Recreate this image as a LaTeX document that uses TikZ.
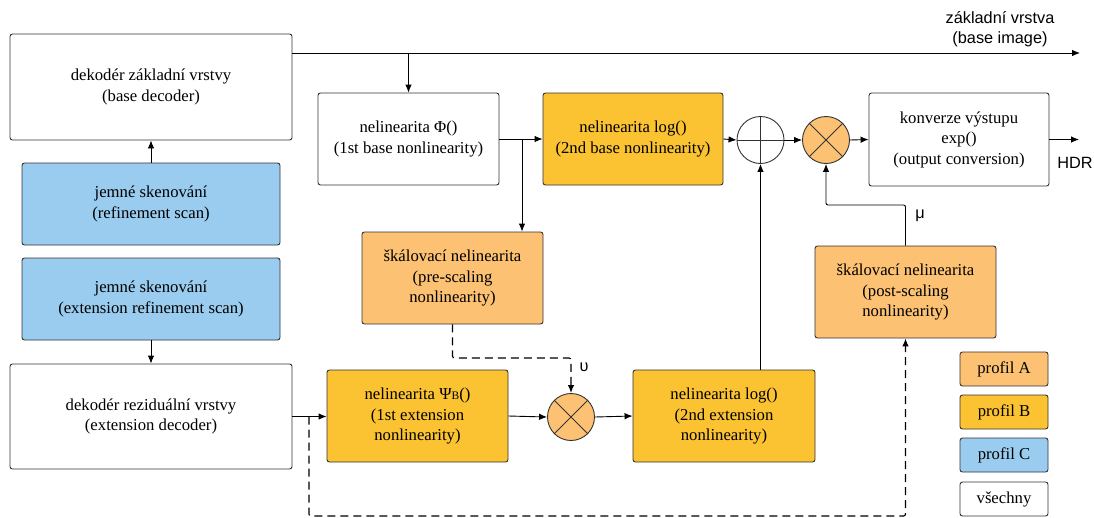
\documentclass[tikz,border=0pt]{standalone}
\usepackage{fontspec}
\setmainfont{Liberation Serif}
\newfontfamily\labelfont{Liberation Sans}
\usetikzlibrary{arrows.meta}
\definecolor{edge}{HTML}{333333}
\definecolor{profA}{HTML}{FCC173}
\definecolor{profB}{HTML}{FBC232}
\definecolor{profC}{HTML}{99CCEE}
\tikzset{
  box/.style={draw=edge, line width=0.9pt, rounded corners=2.5pt, align=center,
    inner sep=2pt, font=\fontsize{16.7}{20.5}\selectfont},
  opcircle/.style={draw=edge, line width=0.9pt, circle, inner sep=0pt, minimum size=47pt},
  arr/.style={line width=0.9pt, -{Latex[length=8pt,width=6.5pt]}},
  dsh/.style={line width=1.15pt, dash pattern=on 8pt off 5pt, rounded corners=2pt},
  lbl/.style={font=\labelfont\fontsize{16.3}{20.5}\selectfont, align=center, inner sep=0pt},
}
\begin{document}
\begin{tikzpicture}[x=1pt, y=-1pt]
\useasboundingbox (0,0) rectangle (1094,517);

% decoders and scans
\node[box, minimum width=282pt, minimum height=106pt] (bdec) at (151,87)
  {dekodér základní vrstvy\\(base decoder)};
\node[box, fill=profC, minimum width=258pt, minimum height=82pt] (ref) at (151,204)
  {jemné skenování\\(refinement scan)};
\node[box, fill=profC, minimum width=258pt, minimum height=82pt] (eref) at (151,299)
  {jemné skenování\\(extension refinement scan)};
\node[box, minimum width=282pt, minimum height=105pt] (rdec) at (151,416.5)
  {dekodér reziduální vrstvy\\(extension decoder)};

% base branch
\node[box, minimum width=181pt, minimum height=92pt] (phi) at (408.5,139)
  {nelinearita Φ()\\(1st base nonlinearity)};
\node[box, fill=profB, minimum width=180pt, minimum height=92pt] (logb) at (633,139)
  {nelinearita log()\\(2nd base nonlinearity)};
\node[opcircle] (plus) at (760.5,140) {};
\node[opcircle, fill=profA] (mulA) at (826,140) {};
\node[box, minimum width=180pt, minimum height=93pt] (outc) at (959,139.5)
  {konverze výstupu\\exp()\\(output conversion)};

% scaling
\node[box, fill=profA, minimum width=181pt, minimum height=92pt] (pre) at (452.5,278)
  {škálovací nelinearita\\(pre-scaling\\nonlinearity)};
\node[box, fill=profA, minimum width=181pt, minimum height=92pt] (post) at (905.5,292)
  {škálovací nelinearita\\(post-scaling\\nonlinearity)};

% extension branch
\node[box, fill=profB, minimum width=181pt, minimum height=92pt] (psi) at (417.5,416)
  {nelinearita Ψ{\fontsize{11.5}{11.5}\selectfont B}()\\(1st extension\\nonlinearity)};
\node[opcircle, fill=profA] (mulB) at (571,417) {};
\node[box, fill=profB, minimum width=182pt, minimum height=92pt] (loge) at (724,416)
  {nelinearita log()\\(2nd extension\\nonlinearity)};

% operator marks
\draw[edge, line width=0.9pt] (plus.north) -- (plus.south) (plus.west) -- (plus.east);
\draw[edge, line width=0.9pt] (mulA.north west) -- (mulA.south east) (mulA.north east) -- (mulA.south west);
\draw[edge, line width=0.9pt] (mulB.north west) -- (mulB.south east) (mulB.north east) -- (mulB.south west);

% legend
\node[box, fill=profA, minimum width=88pt, minimum height=34pt] (legA) at (1004,369) {profil A};
\node[box, fill=profB, minimum width=88pt, minimum height=34pt] (legB) at (1004,412) {profil B};
\node[box, fill=profC, minimum width=88pt, minimum height=34pt] (legC) at (1004,455) {profil C};
\node[box, minimum width=88pt, minimum height=34pt] (legAll) at (1004,499) {všechny};

% labels
\node[lbl] (baseimg) at (1000,29) {základní vrstva\\(base image)};
\node[lbl] (hdrlbl) at (1075,163) {HDR};
\node[lbl] (mulbl) at (920,216) {μ};
\node[lbl] (upslbl) at (584,367) {υ};

% helper points
\coordinate (topend) at (1080,53);
\coordinate (hdr) at (1079,139.5);
\coordinate (br1) at (522,139);
\coordinate (mu) at (905.5,205);
\coordinate (ups) at (452.5,358);
\coordinate (br2) at (309,416.5);
\coordinate (bot) at (309,516);

% connectors
\draw[arr] (bdec.east |- topend) -- (topend);
\draw[arr] (phi.north |- topend) -- (phi.north);
\draw[arr] (ref.north) -- (bdec.south);
\draw[arr] (eref.south) -- (rdec.north);
\draw[arr] (phi.east) -- (logb.west);
\draw[arr] (br1) -- (br1 |- pre.north);
\draw[arr] (logb.east) -- (plus.west);
\draw[arr] (plus.east) -- (mulA.west);
\draw[arr] (mulA.east) -- (outc.west);
\draw[arr] (outc.east) -- (hdr);
\draw[arr] (rdec.east) -- (rdec.east -| psi.west);
\draw[arr] (psi.east) -- (mulB.west);
\draw[arr] (mulB.east) -- (loge.west);
\draw[arr] (plus |- loge.north) -- (plus.south);
\draw[arr, rounded corners=2pt] (post.north) -- (mu) -| (mulA.south);
\draw[arr, dsh] (pre.south) -- (ups) -| (mulB.north);
\draw[arr, dsh] (br2) -- (bot) -| (post.south);
\end{tikzpicture}
\end{document}
